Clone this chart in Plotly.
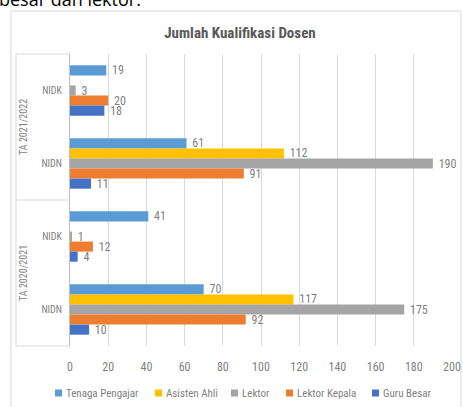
import plotly.graph_objects as go

# ---- data ----
periods = ["TA 2021/2022", "TA 2021/2022", "TA 2020/2021", "TA 2020/2021"]
types = ["NIDK", "NIDN", "NIDK", "NIDN"]
series_names = ["Tenaga Pengajar", "Asisten Ahli", "Lektor", "Lektor Kepala", "Guru Besar"]
tenaga_pengajar = [19, 61, 41, 70]
asisten_ahli = [None, 112, None, 117]
lektor = [3, 190, 1, 175]
lektor_kepala = [20, 91, 12, 92]
guru_besar = [18, 11, 4, 10]
x_ticks = list(range(0, 201, 20))

colors = ["#5B9BD5", "#FFC000", "#A5A5A5", "#ED7D31", "#4472C4"]
FONT = "Roboto Condensed, DejaVu Sans Condensed, sans-serif"
GRAY_TXT = "#7f7f7f"

W, H = 463, 407
L, R, T, B = 70, 11, 54, 61
PW, PH = W - L - R, H - T - B


def px(x):
    return (x - L) / PW


def py(y):
    return (H - B - y) / PH


keys = [p + " " + t for p, t in zip(periods, types)]
values = [tenaga_pengajar, asisten_ahli, lektor, lektor_kepala, guru_besar]

fig = go.Figure()
for name, vals, col in zip(series_names, values, colors):
    fig.add_trace(go.Bar(
        name=name, y=keys, x=vals, orientation="h",
        marker=dict(color=col, line=dict(width=0)),
        text=[("" if v is None else " " + str(v)) for v in vals],
        textposition="outside", constraintext="none", cliponaxis=False,
        textfont=dict(family=FONT, size=12, color=GRAY_TXT),
        showlegend=False,
    ))

shapes = []
line_col = "#d9d9d9"
# category label box
shapes.append(dict(type="line", xref="paper", yref="paper", x0=px(16), x1=px(16), y0=py(54), y1=py(346),
                   line=dict(color=line_col, width=1)))
for yy in [54, 200, 346]:
    shapes.append(dict(type="line", xref="paper", yref="paper", x0=px(16), x1=px(70), y0=py(yy), y1=py(yy),
                       line=dict(color=line_col, width=1)))
# chart border
shapes.append(dict(type="rect", xref="paper", yref="paper", x0=px(11), x1=px(461), y0=py(420), y1=py(11),
                   line=dict(color=line_col, width=1), fillcolor="rgba(0,0,0,0)", layer="below"))

annotations = []
for label, yc in [("TA 2021/2022", 127), ("TA 2020/2021", 273)]:
    annotations.append(dict(text=label, xref="paper", yref="paper", x=px(23), y=py(yc), showarrow=False,
                            textangle=-90, font=dict(family=FONT, size=10, color=GRAY_TXT),
                            xanchor="center", yanchor="middle"))
annotations.append(dict(text="besar dan lektor.", xref="paper", yref="paper", x=px(-3), y=py(-1),
                        showarrow=False, xanchor="left", yanchor="middle",
                        font=dict(family="Open Sans, sans-serif", size=18, color="#000000")))

# legend (manual, single row as in the reference)
legend_sq_x = [55, 155, 231, 286, 372]
legend_y = 393
for name, col, sx in zip(series_names, colors, legend_sq_x):
    shapes.append(dict(type="rect", xref="paper", yref="paper", x0=px(sx), x1=px(sx + 7),
                       y0=py(legend_y + 3.5), y1=py(legend_y - 3.5), fillcolor=col, line=dict(width=0)))
    annotations.append(dict(text=name, xref="paper", yref="paper", x=px(sx + 9), y=py(legend_y),
                            showarrow=False, xanchor="left", yanchor="middle",
                            font=dict(family=FONT, size=11, color=GRAY_TXT)))

fig.update_layout(
    width=W, height=H,
    margin=dict(l=L, r=R, t=T, b=B, autoexpand=False),
    paper_bgcolor="white", plot_bgcolor="white",
    barmode="group", bargap=0.31, bargroupgap=0,
    showlegend=False,
    title=dict(text="<b>Jumlah Kualifikasi Dosen</b>", x=240 / W, xanchor="center",
               y=1 - 33 / H, yanchor="middle", font=dict(family=FONT, size=15, color="#595959")),
    xaxis=dict(range=[0, 200], tickvals=x_ticks, showgrid=True, gridcolor=line_col, gridwidth=1,
               zeroline=False, showline=False, ticks="", ticklabelstandoff=12,
               tickfont=dict(family=FONT, size=12, color=GRAY_TXT)),
    yaxis=dict(type="category", categoryorder="array", categoryarray=keys, autorange="reversed",
               tickvals=keys, ticktext=types, showline=True, linecolor="#bfbfbf", linewidth=1,
               showgrid=False, ticks="", ticklabelstandoff=5,
               tickfont=dict(family=FONT, size=10, color=GRAY_TXT)),
    shapes=shapes, annotations=annotations,
)

fig.write_html("out.html", config={"displayModeBar": False},
               post_script="document.body.style.margin='0';")
